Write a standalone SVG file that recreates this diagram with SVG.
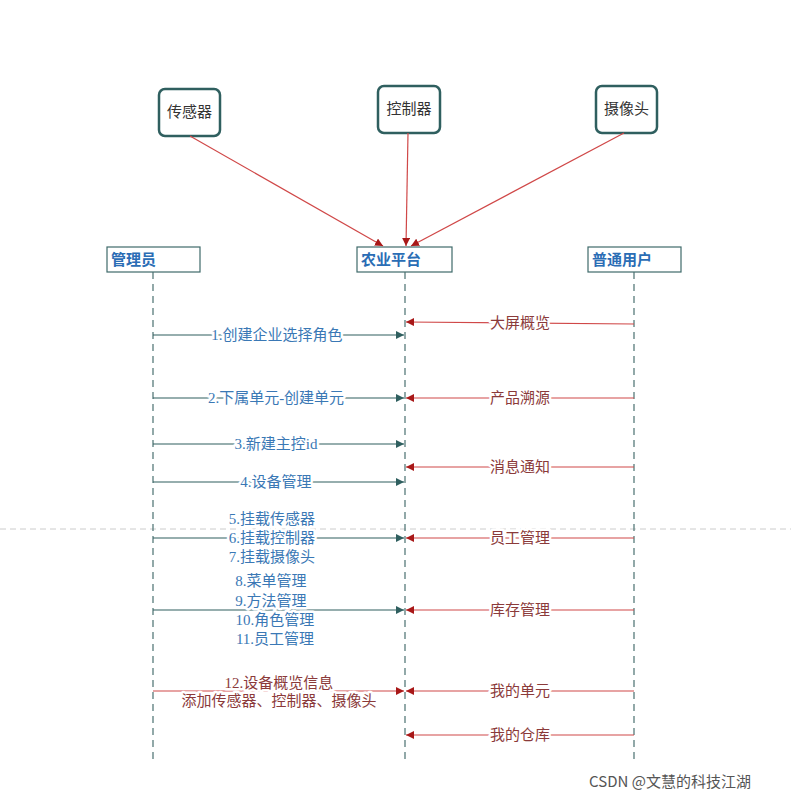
<svg xmlns="http://www.w3.org/2000/svg" width="791" height="800" viewBox="0 0 791 800">
<style>
text{font-family:"Liberation Serif","Noto Sans CJK SC",serif;font-size:15px;text-anchor:middle;dominant-baseline:central}
.top{fill:#fff;stroke:#2f5f5f;stroke-width:2.5}
.tt{fill:#333;font-size:15px}
.hd{fill:#fff;stroke:#3f6a6a;stroke-width:1.2}
.hdt{fill:#2a6db5;font-weight:bold;font-size:15px;text-anchor:start}
.life{stroke:#4a7070;stroke-dasharray:7 5;stroke-width:1.2}
.a{stroke:#2f5f5f;stroke-width:1.2;marker-end:url(#ta)}
.r{stroke:#d04848;stroke-width:1.2;marker-end:url(#ra)}
.b,.d{stroke:#fff;stroke-width:5;paint-order:stroke;stroke-linejoin:round}
.b{fill:#3a78b5}
.d{fill:#8b3a3a}
</style>
<defs>
<marker id="ta" viewBox="0 0 10 10" refX="10" refY="5" markerWidth="8" markerHeight="8" orient="auto" markerUnits="userSpaceOnUse"><path d="M0,0L10,5L0,10z" fill="#2f5f5f"/></marker>
<marker id="ra" viewBox="0 0 10 10" refX="10" refY="5" markerWidth="8" markerHeight="8" orient="auto" markerUnits="userSpaceOnUse"><path d="M0,0L10,5L0,10z" fill="#a81818"/></marker>
</defs>
<rect width="791" height="800" fill="#fff"/>
<line x1="0" y1="529" x2="791" y2="529" stroke="#ccc" stroke-dasharray="6 4"/>
<g id="sensor"><rect class="top" x="159" y="89" width="61" height="47" rx="6"/><text class="tt" x="189.5" y="112">传感器</text></g>
<g id="controller"><rect class="top" x="378" y="86" width="62" height="47" rx="6"/><text class="tt" x="409" y="109">控制器</text></g>
<g id="camera"><rect class="top" x="596" y="86" width="61" height="47" rx="6"/><text class="tt" x="626.5" y="109">摄像头</text></g>
<g id="admin"><rect class="hd" x="107" y="247" width="93" height="25"/><text class="hdt" x="111" y="260">管理员</text><line class="life" x1="153" y1="272" x2="153" y2="760"/></g>
<g id="platform"><rect class="hd" x="357" y="247" width="95" height="25"/><text class="hdt" x="361" y="260">农业平台</text><line class="life" x1="405" y1="272" x2="405" y2="760"/></g>
<g id="user"><rect class="hd" x="588" y="247" width="93" height="25"/><text class="hdt" x="592" y="260">普通用户</text><line class="life" x1="634" y1="272" x2="634" y2="760"/></g>
<g id="connectors" fill="none">
<line class="r" x1="190" y1="136" x2="383" y2="246"/>
<line class="r" x1="408" y1="133" x2="406" y2="246"/>
<line class="r" x1="624" y1="133" x2="411" y2="246"/>
<line class="r" x1="634" y1="324" x2="406" y2="322"/>
<line class="a" x1="153" y1="335" x2="404" y2="335"/>
<line class="a" x1="153" y1="398" x2="404" y2="398"/>
<line class="r" x1="634" y1="398" x2="406" y2="398"/>
<line class="a" x1="153" y1="444" x2="404" y2="444"/>
<line class="r" x1="634" y1="467" x2="406" y2="467"/>
<line class="a" x1="153" y1="482" x2="404" y2="482"/>
<line class="a" x1="153" y1="538" x2="404" y2="538"/>
<line class="r" x1="634" y1="538" x2="406" y2="538"/>
<line class="a" x1="153" y1="610" x2="404" y2="610"/>
<line class="r" x1="634" y1="610" x2="406" y2="610"/>
<line class="r" x1="153" y1="691" x2="404" y2="691"/>
<line class="r" x1="634" y1="691" x2="406" y2="691"/>
<line class="r" x1="634" y1="735" x2="406" y2="735"/>
</g>
<g id="labels">
<text class="d" x="520" y="323">大屏概览</text>
<text class="b" x="277" y="335">1.创建企业选择角色</text>
<text class="b" x="276" y="398">2.下属单元-创建单元</text>
<text class="d" x="520" y="398">产品溯源</text>
<text class="b" x="276" y="444">3.新建主控id</text>
<text class="d" x="520" y="467">消息通知</text>
<text class="b" x="276" y="482">4.设备管理</text>
<text class="b" x="272" y="519">5.挂载传感器</text><text class="b" x="272" y="538">6.挂载控制器</text><text class="b" x="272" y="557">7.挂载摄像头</text>
<text class="d" x="520" y="538">员工管理</text>
<text class="b" x="271" y="581">8.菜单管理</text><text class="b" x="271" y="601">9.方法管理</text><text class="b" x="275" y="620">10.角色管理</text><text class="b" x="275" y="639">11.员工管理</text>
<text class="d" x="520" y="610">库存管理</text>
<text class="d" x="279" y="683">12.设备概览信息</text><text class="d" x="279" y="701">添加传感器、控制器、摄像头</text>
<text class="d" x="520" y="691">我的单元</text>
<text class="d" x="520" y="735">我的仓库</text>
</g>
<text x="670" y="780" style="font-family:'Noto Sans CJK SC',sans-serif;font-size:15px;fill:#555">CSDN @文慧的科技江湖</text>
</svg>
